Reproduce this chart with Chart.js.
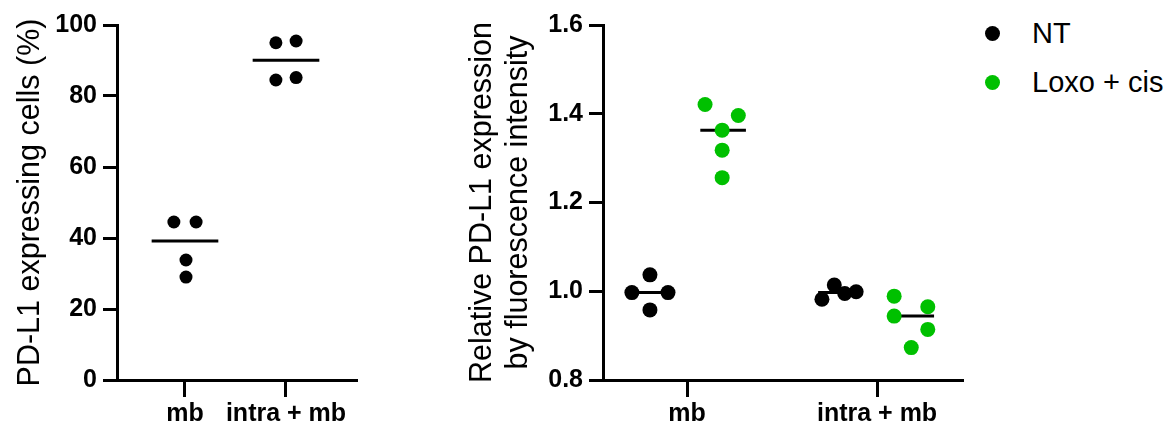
<!DOCTYPE html>
<html lang="en">
<head>
    <meta charset="UTF-8">
    <title>PD-L1 expression</title>
    <script src="https://cdn.jsdelivr.net/npm/chart.js"></script>
    <style>
        body {
            margin: 0;
            background: #ffffff;
            font-family: "Liberation Sans", Arial, sans-serif;
        }

        .wrap {
            position: relative;
            width: 1172px;
            height: 428px;
            overflow: hidden;
        }

        #chartLeft {
            position: absolute;
            left: 0;
            top: 0;
        }

        #chartRight {
            position: absolute;
            left: 440px;
            top: 0;
        }

        .legend-item {
            position: absolute;
            left: 985px;
            display: flex;
            align-items: center;
            font-size: 29px;
            color: #000;
        }

        .legend-dot {
            width: 15px;
            height: 15px;
            border-radius: 50%;
            margin-right: 32px;
        }
    </style>
</head>
<body>
    <div class="wrap">
        <canvas id="chartLeft" width="380" height="428" style="width:380px;height:428px"></canvas>
        <canvas id="chartRight" width="540" height="428" style="width:540px;height:428px"></canvas>
        <div class="legend-item" style="top:17px"><span class="legend-dot" style="background:#000"></span>NT</div>
        <div class="legend-item" style="top:66px"><span class="legend-dot" style="background:#00c000"></span>Loxo + cis</div>
    </div>

    <script>
        // categories
        const groups = ['mb', 'intra + mb'];

        // left panel: PD-L1 expressing cells (%)
        const pctMb = [44.5, 44.5, 33.8, 29.0];
        const pctIntra = [95.0, 95.5, 84.5, 85.2];
        const pctJitterMb = [-0.11, 0.11, 0.01, 0.01];
        const pctJitterIntra = [-0.1, 0.1, -0.1, 0.1];
        const pctTicks = [0, 20, 40, 60, 80, 100];

        // right panel: relative MFI
        const ntMb = [1.037, 0.997, 0.997, 0.958];
        const ntIntra = [0.982, 1.014, 0.995, 0.999];
        const loxoMb = [1.421, 1.396, 1.363, 1.318, 1.256];
        const loxoIntra = [0.989, 0.965, 0.944, 0.914, 0.873];
        const ntJitterMb = [0.005, -0.09, 0.1, 0.005];
        const ntJitterIntra = [-0.09, -0.025, 0.03, 0.09];
        const loxoJitterMb = [-0.095, 0.08, -0.005, -0.005, -0.005];
        const loxoJitterIntra = [-0.1, 0.077, -0.1, 0.077, -0.01];
        const mfiTicks = [0.8, 1.0, 1.2, 1.4, 1.6];

        const FONT = '"Liberation Sans", Arial, sans-serif';
        const GREEN = '#00c000';
        Chart.defaults.color = '#000';
        Chart.defaults.font.family = FONT;

        function median(arr) {
            const s = [...arr].sort((a, b) => a - b);
            const m = Math.floor(s.length / 2);
            return s.length % 2 ? s[m] : (s[m - 1] + s[m]) / 2;
        }

        function dots(values, jitter, center, color, r) {
            return {
                type: 'scatter',
                data: values.map((v, i) => ({ x: center + jitter[i], y: v })),
                backgroundColor: color,
                borderWidth: 0,
                pointRadius: r,
                order: 1
            };
        }

        function medLine(values, center, half) {
            const m = median(values);
            return {
                type: 'scatter',
                data: [{ x: center - half, y: m }, { x: center + half, y: m }],
                showLine: true,
                borderColor: '#000',
                borderWidth: 3,
                pointRadius: 0,
                order: 2
            };
        }

        function axes(yMin, yMax, yTicks, yFmt, yTitle, yWidth, titlePad, xMin, xMax) {
            return {
                x: {
                    type: 'linear',
                    min: xMin,
                    max: xMax,
                    afterBuildTicks: s => { s.ticks = [{ value: 1 }, { value: 2 }]; },
                    afterFit: s => { s.height = 48; },
                    ticks: {
                        callback: v => groups[v - 1],
                        font: { size: 25, weight: 'bold' },
                        padding: 2,
                        maxRotation: 0
                    },
                    grid: { drawOnChartArea: false, tickLength: 17, color: '#000', lineWidth: 3 },
                    border: { color: '#000', width: 3 }
                },
                y: {
                    min: yMin,
                    max: yMax,
                    afterBuildTicks: s => { s.ticks = yTicks.map(v => ({ value: v })); },
                    afterFit: s => { s.width = yWidth; },
                    ticks: {
                        callback: yFmt,
                        font: { size: 25, weight: 'bold' },
                        padding: 6
                    },
                    grid: { drawOnChartArea: false, tickLength: 14, color: '#000', lineWidth: 3 },
                    border: { color: '#000', width: 3 },
                    title: {
                        display: true,
                        text: yTitle,
                        font: { size: 30.5 },
                        padding: { top: titlePad, bottom: 0 }
                    }
                }
            };
        }

        const common = {
            responsive: false,
            animation: false,
            events: [],
            plugins: { legend: { display: false }, tooltip: { enabled: false } }
        };

        new Chart(document.getElementById('chartLeft'), {
            type: 'scatter',
            data: {
                datasets: [
                    dots(pctMb, pctJitterMb, 1, '#000', 6.5),
                    dots(pctIntra, pctJitterIntra, 2, '#000', 6.5),
                    medLine(pctMb, 1, 0.33),
                    medLine(pctIntra, 2, 0.33)
                ]
            },
            options: {
                ...common,
                layout: { padding: { top: 25, right: 24, bottom: 0, left: 0 } },
                scales: axes(0, 100, pctTicks, v => v, 'PD-L1 expressing cells (%)', 117, 12, 0.327, 2.693)
            }
        });

        new Chart(document.getElementById('chartRight'), {
            type: 'scatter',
            data: {
                datasets: [
                    dots(ntMb, ntJitterMb, 0.8, '#000', 7.5),
                    dots(loxoMb, loxoJitterMb, 1.19, GREEN, 7.5),
                    dots(ntIntra, ntJitterIntra, 1.8, '#000', 7.5),
                    dots(loxoIntra, loxoJitterIntra, 2.19, GREEN, 7.5),
                    medLine(ntMb, 0.8, 0.11),
                    medLine(loxoMb, 1.19, 0.12),
                    medLine(ntIntra, 1.8, 0.11),
                    medLine(loxoIntra, 2.19, 0.11)
                ]
            },
            options: {
                ...common,
                layout: { padding: { top: 25, right: 18, bottom: 0, left: 0 } },
                scales: axes(0.8, 1.6, mfiTicks, v => v.toFixed(1),
                    ['Relative PD-L1 expression', 'by fluorescence intensity'], 163, 24, 0.558, 2.447)
            }
        });
    </script>
</body>
</html>
